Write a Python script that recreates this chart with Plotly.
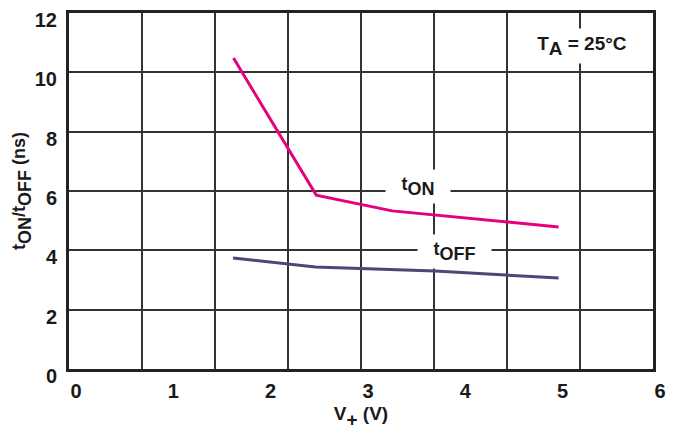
import plotly.graph_objects as go

# ---- data ----
v_on = [1.69, 2.54, 3.32, 5.03]
t_on = [10.48, 5.86, 5.33, 4.79]
v_off = [1.685, 2.53, 3.76, 5.03]
t_off = [3.74, 3.44, 3.30, 3.07]
x_tick_vals = [0, 1, 2, 3, 4, 5, 6]
x_tick_text = ["0", "1", "2", "3", "4", "5", "6"]
y_tick_vals = [0, 2, 4, 6, 8, 10, 12]

FONT = "Liberation Sans, Arial, sans-serif"
INK = "#1a1a1a"


def lab(parts, size):
    """parts: list of (text, is_sub). Subscripts are drawn at full size."""
    out = []
    for txt, is_sub in parts:
        if is_sub:
            out.append(f"<sub>{txt}</sub>")
        else:
            out.append(f"<span style='font-size:{size}px'>{txt}</span>")
    return "".join(out), round(size / 0.7, 2)


def fnt(size):
    return dict(size=size, family=FONT, color=INK, weight="bold")


xt_text, xt_size = lab([("V", False), ("+", True), (" (V)", False)], 19)
yt_text, yt_size = lab([("t", False), ("ON", True), ("/t", False), ("OFF", True),
                        (" (ns)", False)], 18)
ta_text, ta_size = lab([("T", False), ("A", True), (" = 25°C", False)], 19)
on_text, on_size = lab([("t", False), ("ON", True)], 18)
off_text, off_size = lab([("t", False), ("OFF", True)], 18)

fig = go.Figure()
fig.add_trace(go.Scatter(x=v_on, y=t_on, mode="lines",
                         line=dict(color="#E6007E", width=3), showlegend=False,
                         hoverinfo="skip"))
fig.add_trace(go.Scatter(x=v_off, y=t_off, mode="lines", xaxis="x2",
                         line=dict(color="#4A4878", width=3), showlegend=False,
                         hoverinfo="skip"))

fig.update_layout(
    width=680, height=430,
    margin=dict(l=69, r=27, t=13, b=61, autoexpand=False),
    paper_bgcolor="white", plot_bgcolor="white",
    font=dict(family=FONT, color=INK, weight="bold"),
    xaxis=dict(range=[0, 6], tickmode="linear", tick0=0, dtick=0.75,
               showticklabels=False, showgrid=True, gridcolor="#333333",
               gridwidth=1.5, zeroline=False, showline=True, mirror=True,
               linecolor="#222222", linewidth=3, ticks="", automargin=False),
    xaxis2=dict(range=[0, 6], overlaying="x", anchor="y", side="bottom",
                tickmode="array", tickvals=x_tick_vals, ticktext=x_tick_text,
                showgrid=False, zeroline=False, showline=False, ticks="",
                ticklabelshift=7, ticklabelstandoff=8, automargin=False,
                tickfont=fnt(20),
                title=dict(text=xt_text, standoff=2, font=fnt(xt_size))),
    yaxis=dict(range=[0, 12], tickmode="array", tickvals=y_tick_vals,
               showgrid=True, gridcolor="#333333", gridwidth=1.5,
               zeroline=False, showline=True, mirror=True,
               linecolor="#222222", linewidth=3, ticks="", automargin=False,
               ticklabelshift=7, ticklabelstandoff=5,
               tickfont=fnt(20),
               title=dict(text=yt_text, standoff=2, font=fnt(yt_size))),
)

fig.add_annotation(x=5.27, y=10.9, xref="x", yref="y",
                   text=ta_text, showarrow=False,
                   bgcolor="white", width=94, height=34, borderpad=0,
                   font=fnt(ta_size))
fig.add_annotation(x=3.59, y=6.15, xref="x", yref="y",
                   text=on_text, showarrow=False,
                   bgcolor="white", width=64, height=33, borderpad=0,
                   font=fnt(on_size))
fig.add_annotation(x=3.96, y=3.96, xref="x", yref="y",
                   text=off_text, showarrow=False,
                   bgcolor="white", width=73, height=33, borderpad=0,
                   font=fnt(off_size))

fig.write_html("out.html")
